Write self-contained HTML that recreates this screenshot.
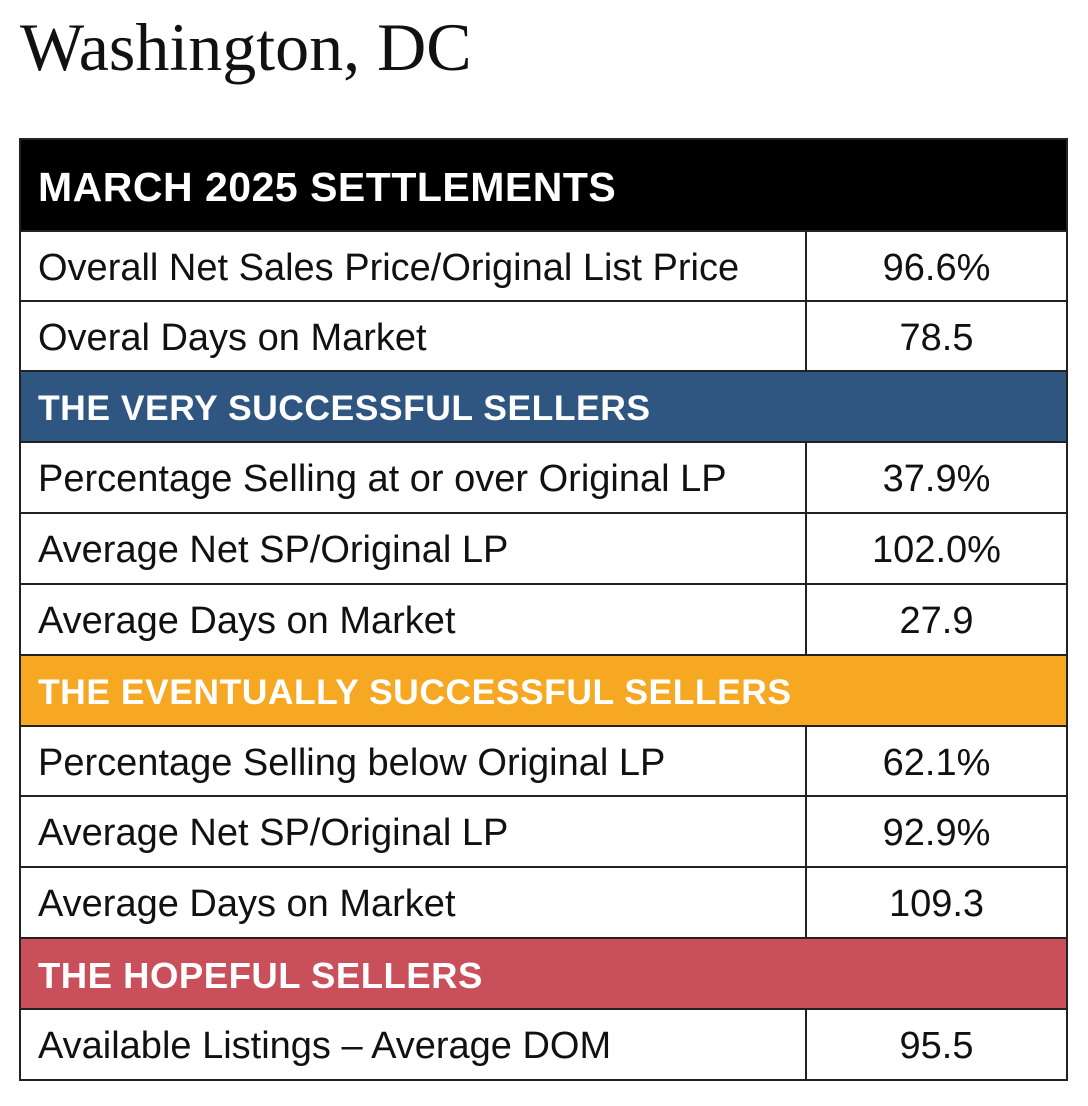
<!DOCTYPE html>
<html><head><style>
body{margin:0;width:1088px;height:1106px;background:#fff;position:relative;overflow:hidden;font-family:"Liberation Sans",sans-serif}
.t{position:absolute;left:20px;top:8px;font-family:"Liberation Serif",serif;font-size:68px;color:#111;white-space:nowrap}
.r{position:absolute;left:19px;width:1049px;border:2px solid #222;border-top:none;box-sizing:border-box}
.h{color:#fff;font-weight:bold;font-size:35.5px;padding-left:17px;display:flex;align-items:center;letter-spacing:0.5px;white-space:nowrap;padding-top:4px}
.d{display:flex;font-size:38px;color:#111;white-space:nowrap}
.d .a{width:786px;border-right:2px solid #222;padding-left:17px;display:flex;align-items:center;box-sizing:border-box;padding-top:4px}
.d .b{flex:1;display:flex;align-items:center;justify-content:center;padding-top:4px}
</style></head><body>
<div class="t">Washington, DC</div>
<div class="r h" style="top:138px;height:94px;background:#000;border-top:2px solid #222;font-size:41px">MARCH 2025 SETTLEMENTS</div>
<div class="r d" style="top:232px;height:70px"><div class="a">Overall Net Sales Price/Original List Price</div><div class="b">96.6%</div></div>
<div class="r d" style="top:302px;height:70px"><div class="a">Overal Days on Market</div><div class="b">78.5</div></div>
<div class="r h" style="top:372px;height:71px;background:#2f5581">THE VERY SUCCESSFUL SELLERS</div>
<div class="r d" style="top:443px;height:71px"><div class="a">Percentage Selling at or over Original LP</div><div class="b">37.9%</div></div>
<div class="r d" style="top:514px;height:71px"><div class="a">Average Net SP/Original LP</div><div class="b">102.0%</div></div>
<div class="r d" style="top:585px;height:71px"><div class="a">Average Days on Market</div><div class="b">27.9</div></div>
<div class="r h" style="top:656px;height:71px;background:#f7a823">THE EVENTUALLY SUCCESSFUL SELLERS</div>
<div class="r d" style="top:727px;height:70px"><div class="a">Percentage Selling below Original LP</div><div class="b">62.1%</div></div>
<div class="r d" style="top:797px;height:71px"><div class="a">Average Net SP/Original LP</div><div class="b">92.9%</div></div>
<div class="r d" style="top:868px;height:71px"><div class="a">Average Days on Market</div><div class="b">109.3</div></div>
<div class="r h" style="top:939px;height:71px;background:#c9505b;font-size:36.5px">THE HOPEFUL SELLERS</div>
<div class="r d" style="top:1010px;height:71px"><div class="a">Available Listings – Average DOM</div><div class="b">95.5</div></div>
</body></html>
